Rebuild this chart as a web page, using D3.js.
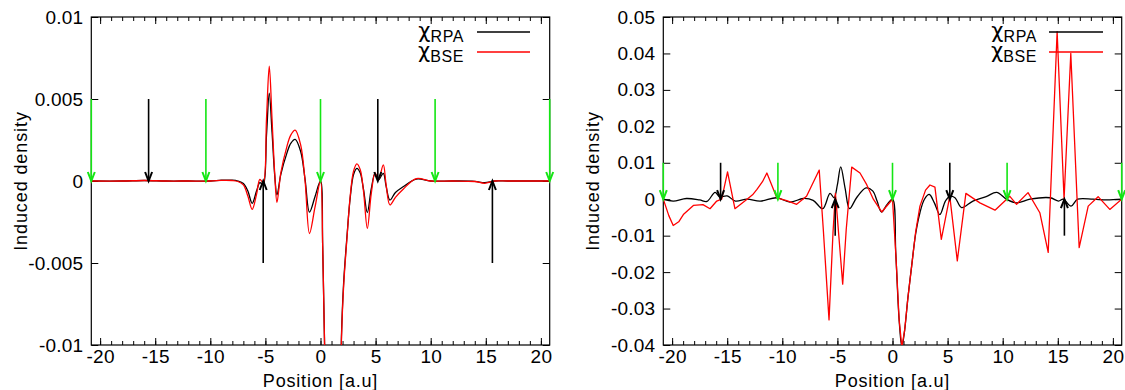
<!DOCTYPE html>
<html><head><meta charset="utf-8">
<script src="https://cdn.jsdelivr.net/npm/d3@7"></script>
<style>
body{margin:0;background:#fff}
svg{display:block}
text{font-family:"Liberation Sans",Arial,Helvetica,sans-serif;fill:#000}
</style>
</head><body>
<svg id="c" width="1125" height="390"></svg>
<script>
// ---------- data ----------
const xTicks = [-20, -15, -10, -5, 0, 5, 10, 15, 20];
const xTickLabels = ["-20", "-15", "-10", "-5", "0", "5", "10", "15", "20"];
const xMinorTicks = d3.range(-20, 21, 1);
const xDomain = [-20.8, 20.8];

const leftYTicks = [-0.01, -0.005, 0, 0.005, 0.01];
const leftYTickLabels = ["-0.01", "-0.005", "0", "0.005", "0.01"];
const leftYDomain = [-0.01, 0.01];

const rightYTicks = [-0.04, -0.03, -0.02, -0.01, 0, 0.01, 0.02, 0.03, 0.04, 0.05];
const rightYTickLabels = ["-0.04", "-0.03", "-0.02", "-0.01", "0", "0.01", "0.02", "0.03", "0.04", "0.05"];
const rightYDomain = [-0.04, 0.05];

const seriesNames = ["RPA", "BSE"];
const seriesColors = ["#000000", "#ff0000"];

// left panel
const leftX = [-20.8, -18, -16, -14, -12, -10, -9, -8, -7.5, -7, -6.6, -6.2, -5.8, -5.5, -5.2, -4.9, -4.65, -4.4, -4.15, -3.95, -3.6, -3.05, -2.7, -2.3, -1.8, -1.4, -1.0, -0.5, 0, 0.2, 0.4, 0.8, 1.1, 1.5, 1.9, 2.1, 2.4, 2.7, 3.0, 3.3, 3.6, 3.9, 4.25, 4.6, 4.95, 5.25, 5.7, 5.95, 6.3, 6.8, 7.5, 8.7, 10, 12, 14, 14.9, 15.8, 17, 19, 20.8];
const leftRPA = [0, 0, 0.00003, 0, 0, 0, 0.00005, 0.00005, 0, -0.00015, -0.0006, -0.00136, -0.0006, -0.0001, -0.00024, 0.0028, 0.00535, 0.003, 0.0003, -0.00085, 0.0004, 0.0017, 0.0023, 0.00254, 0.0018, 0.0001, -0.0019, -0.00096, 0, -0.004, -0.011, -0.03, -0.038, -0.025, -0.0095, -0.0062, -0.0034, -0.001, 0.0004, 0.00077, 0.0005, -0.0005, -0.00193, -0.0005, 0.00047, 0.00006, 0.00047, -0.0003, -0.00116, -0.0007, -0.00035, 0.00012, 0, 0, -0.00002, -0.0001, 0, 0, 0, 0];
const leftBSE = [0, 0, 0.00003, 0, 0, 0, 0.00004, 0.00003, -0.00003, -0.00024, -0.0009, -0.00173, -0.0008, 0.0001, -0.0001, 0.0038, 0.0070, 0.0038, 0.0004, -0.0013, 0.0005, 0.0021, 0.0028, 0.0031, 0.0022, 0.0000, -0.0032, -0.0016, 0, -0.004, -0.011, -0.03, -0.038, -0.025, -0.0097, -0.0064, -0.0035, -0.0009, 0.0006, 0.00104, 0.0007, -0.0006, -0.00289, -0.0008, 0.0005, 0.00006, 0.00098, -0.0002, -0.00146, -0.001, -0.0005, 0.00015, 0, 0, -0.00003, -0.00014, 0, 0, 0, 0];

// right panel
const rightRPAX = [-20.8, -19.9, -18.7, -17.5, -16.84, -16.1, -15.7, -15.0, -14.26, -13.2, -12.0, -10.5, -9.3, -8.1, -7.2, -6.33, -5.67, -5.3, -5.0, -4.7, -4.3, -3.9, -3.26, -2.4, -1.8, -1.4, -1.0, -0.5, 0, 0.3, 0.6, 0.85, 1.1, 1.4, 1.74, 2.1, 2.49, 2.9, 3.34, 3.8, 4.3, 4.8, 5.2, 5.67, 6.27, 7.3, 8.5, 9.45, 10.35, 11.26, 12.47, 14.3, 15.07, 15.5, 16.2, 16.8, 18.2, 19.45, 20.8];
const rightRPA = [0, -0.0005, 0.0002, -0.0002, -0.0006, 0.0019, 0.0007, 0.0009, -0.0005, 0, -0.0005, 0.0004, -0.0008, 0.0002, -0.0003, -0.0026, 0.0016, 0.0004, 0.004, 0.0089, 0.003, -0.0026, 0.0004, 0.0031, 0.0023, -0.0005, -0.0035, -0.0015, 0, -0.015, -0.033, -0.0405, -0.036, -0.027, -0.0183, -0.0095, -0.0037, 0, 0.0013, -0.001, -0.0042, -0.0005, 0.0008, 0.0004, -0.0023, -0.0005, 0.0007, 0.0019, 0, -0.001, 0, 0.0004, -0.0005, 0, -0.0019, 0, 0, -0.0002, 0];
const rightBSEX = [-20.8, -20.3, -19.9, -19.4, -18.98, -18.07, -17.2, -16.56, -15.95, -15.5, -14.97, -14.3, -13.2, -12.7, -12.3, -11.8, -11.4, -10.5, -9.6, -8.7, -7.8, -6.65, -6.28, -5.76, -5.4, -5.18, -4.52, -4.2, -3.7, -2.95, -2.34, -1.74, -0.98, 0, 0.3, 0.6, 0.85, 1.1, 1.4, 1.74, 2.1, 2.49, 3.0, 3.4, 3.85, 4.43, 5.2, 5.88, 6.66, 7.93, 9.3, 10.65, 11.26, 12.3, 13.37, 14.13, 14.94, 15.57, 16.18, 16.94, 17.76, 18.66, 19.72, 20.8];
const rightBSE = [0, -0.0045, -0.0072, -0.0062, -0.0042, -0.0017, -0.0015, -0.0026, -0.0005, 0, 0.0075, -0.0026, 0, 0.0012, 0.0027, 0.0048, 0.0072, 0.0004, -0.0004, -0.0014, 0.0008, 0.008, -0.0083, -0.0331, -0.0092, 0.0016, -0.0233, -0.0083, 0.0088, 0.0072, 0.004, 0, -0.0035, 0, -0.015, -0.033, -0.0405, -0.036, -0.027, -0.0183, -0.009, -0.0019, 0.0025, 0.0039, 0.0033, -0.011, 0.0008, -0.0169, 0.0016, -0.001, -0.003, 0.0008, -0.0014, 0.0018, -0.0037, -0.0146, 0.046, 0, 0.040, -0.0133, -0.0019, 0.0007, -0.0028, 0];

// arrow markers (positions in a.u.)
const greenArrowX = [-20.8, -10.4, 0, 10.4, 20.8];
const blackDownArrowX = [-15.6, 5.2];
const blackUpArrowX = [-5.2, 15.6];
const leftArrowLen = [0.005, -0.005];   // start values of down / up arrows
const rightArrowLen = [0.01, -0.01];

// ---------- drawing ----------
const svg = d3.select("#c");
const FONT = 19;

function panel(cfg) {
  const x = d3.scaleLinear().domain(xDomain).range([cfg.left, cfg.right]);
  const y = d3.scaleLinear().domain(cfg.yDomain).range([cfg.bottom, cfg.top]);
  const g = svg.append("g");
  const clipId = "clip" + cfg.id;
  g.append("clipPath").attr("id", clipId).append("rect")
    .attr("x", cfg.left).attr("y", cfg.top)
    .attr("width", cfg.right - cfg.left).attr("height", cfg.bottom - cfg.top);

  const styleAxis = sel => {
    sel.select(".domain").remove();
    sel.selectAll(".tick line").attr("stroke", "#000").attr("stroke-width", 1);
    sel.selectAll("text").attr("font-size", FONT).attr("letter-spacing", 0.2)
      .attr("font-family", '"Liberation Sans",Arial,sans-serif').attr("fill", "#000");
  };
  g.append("g").attr("transform", `translate(0,${cfg.bottom})`)
    .call(d3.axisBottom(x).tickValues(xMinorTicks).tickSize(-4).tickFormat("")).call(styleAxis);
  g.append("g").attr("transform", `translate(0,${cfg.top})`)
    .call(d3.axisTop(x).tickValues(xMinorTicks).tickSize(-4).tickFormat("")).call(styleAxis);
  g.append("g").attr("transform", `translate(0,${cfg.bottom})`)
    .call(d3.axisBottom(x).tickValues(xTicks).tickSize(-7).tickPadding(5)
      .tickFormat((d, i) => xTickLabels[i])).call(styleAxis);
  g.append("g").attr("transform", `translate(0,${cfg.top})`)
    .call(d3.axisTop(x).tickValues(xTicks).tickSize(-7).tickFormat("")).call(styleAxis);
  g.append("g").attr("transform", `translate(${cfg.left},0)`)
    .call(d3.axisLeft(y).tickValues(cfg.yTicks).tickSize(-7).tickPadding(8)
      .tickFormat((d, i) => cfg.yLabels[i])).call(styleAxis);
  g.append("g").attr("transform", `translate(${cfg.right},0)`)
    .call(d3.axisRight(y).tickValues(cfg.yTicks).tickSize(-7).tickFormat("")).call(styleAxis);

  g.append("rect").attr("x", cfg.left).attr("y", cfg.top)
    .attr("width", cfg.right - cfg.left).attr("height", cfg.bottom - cfg.top)
    .attr("fill", "none").attr("stroke", "#000").attr("stroke-width", 1.2);

  g.append("text").attr("x", (cfg.left + cfg.right) / 2).attr("y", 387)
    .attr("text-anchor", "middle").attr("font-size", 18).attr("letter-spacing", 0.8)
    .text("Position [a.u]");
  g.append("text")
    .attr("transform", `translate(${cfg.left - 64},${(cfg.top + cfg.bottom) / 2}) rotate(-90)`)
    .attr("text-anchor", "middle").attr("font-size", 18).attr("letter-spacing", 0.9)
    .text("Induced density");

  const plot = g.append("g").attr("clip-path", `url(#${clipId})`);
  cfg.series.forEach((s, i) => {
    const pts = s.xs.map((xv, k) => [xv, s.ys[k]]);
    plot.append("path").datum(pts)
      .attr("fill", "none").attr("stroke", seriesColors[i]).attr("stroke-width", 1.3)
      .attr("stroke-linejoin", "round")
      .attr("d", d3.line().x(d => x(d[0])).y(d => y(d[1])).curve(s.curve));
  });

  // legend
  seriesNames.forEach((name, i) => {
    const ly = cfg.legendY + i * 20;
    const t = g.append("text").attr("x", cfg.legendTextX).attr("y", ly + 6)
      .attr("text-anchor", "end");
    t.append("tspan").attr("font-size", 21).attr("font-family", '"DejaVu Sans",sans-serif').text("χ");
    t.append("tspan").attr("font-size", 16).attr("dy", 4).attr("letter-spacing", 0.6).text(name);
    g.append("line").attr("x1", cfg.legendLineX[0]).attr("x2", cfg.legendLineX[1])
      .attr("y1", ly).attr("y2", ly).attr("stroke", seriesColors[i]).attr("stroke-width", 1.3);
  });

  const arrow = (xv, y0v, color) => {
    const px = x(xv), p0 = y(y0v), p1 = y(0);
    const dir = p1 > p0 ? 1 : -1;
    const a = g.append("g").attr("stroke", color).attr("fill", "none").attr("stroke-width", 1.6);
    a.append("line").attr("x1", px).attr("x2", px).attr("y1", p0).attr("y2", p1);
    a.append("path").attr("stroke-width", 2).attr("stroke-linejoin", "miter")
      .attr("d", `M${px - 3.5},${p1 - dir * 9}L${px},${p1}L${px + 3.5},${p1 - dir * 9}`);
  };
  greenArrowX.forEach(v => arrow(v, cfg.arrowLen[0], "#14e614"));
  blackDownArrowX.forEach(v => arrow(v, cfg.arrowLen[0], "#000"));
  blackUpArrowX.forEach(v => arrow(v, cfg.arrowLen[1], "#000"));
}

panel({
  id: "L", left: 91.3, right: 549.7, top: 17, bottom: 345,
  yDomain: leftYDomain, yTicks: leftYTicks, yLabels: leftYTickLabels,
  series: [
    {xs: leftX, ys: leftRPA, curve: d3.curveCatmullRom.alpha(0.5)},
    {xs: leftX, ys: leftBSE, curve: d3.curveCatmullRom.alpha(0.5)}
  ],
  legendY: 32, legendTextX: 464, legendLineX: [477, 530],
  arrowLen: leftArrowLen
});
panel({
  id: "R", left: 663.3, right: 1121.7, top: 17, bottom: 345,
  yDomain: rightYDomain, yTicks: rightYTicks, yLabels: rightYTickLabels,
  series: [
    {xs: rightRPAX, ys: rightRPA, curve: d3.curveCatmullRom.alpha(0.5)},
    {xs: rightBSEX, ys: rightBSE, curve: d3.curveLinear}
  ],
  legendY: 32, legendTextX: 1037, legendLineX: [1049, 1103],
  arrowLen: rightArrowLen
});
</script>
</body></html>
